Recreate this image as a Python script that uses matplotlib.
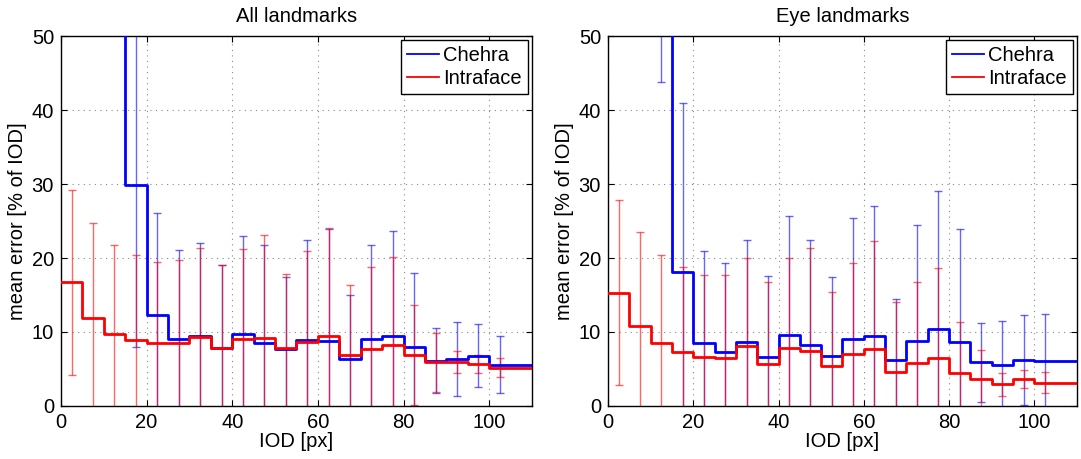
import numpy as np
import matplotlib
matplotlib.use("Agg")
import matplotlib.pyplot as plt
from matplotlib.lines import Line2D

nan = np.nan

# IOD bins of 5 px, 0..110
bin_edges = [0, 5, 10, 15, 20, 25, 30, 35, 40, 45, 50, 55, 60, 65, 70, 75,
             80, 85, 90, 95, 100, 105, 110]

# All landmarks
chehra_all = [nan, nan, 70, 29.9, 12.3, 9.0, 9.5, 7.9, 9.7, 8.5, 7.7, 8.9,
              8.8, 6.4, 9.1, 9.5, 8.0, 6.1, 6.4, 6.8, 5.6, 5.6]
chehra_all_std = [nan, nan, 15, 21.9, 13.8, 12.1, 12.5, 11.2, 13.3, 13.2, 9.7,
                  13.6, 15.1, 8.6, 12.7, 14.1, 10.0, 4.4, 5.0, 4.3, 3.9, nan]
intra_all = [16.7, 11.9, 9.7, 8.9, 8.5, 8.5, 9.3, 7.9, 9.0, 9.2, 7.8, 8.6,
             9.4, 6.9, 7.7, 8.2, 6.9, 5.9, 5.9, 5.7, 5.2, 5.2]
intra_all_std = [12.5, 12.8, 12.0, 11.5, 11.0, 11.2, 12.0, 11.2, 12.2, 13.9,
                 10.1, 12.3, 14.6, 9.4, 11.1, 12.0, 6.8, 4.0, 1.5, 1.2, 1.3, nan]

# Eye landmarks
chehra_eye = [nan, nan, 60, 18.1, 8.45, 7.3, 8.7, 6.65, 9.55, 8.2, 6.7, 9.0,
              9.4, 6.15, 8.8, 10.4, 8.7, 5.9, 5.55, 6.2, 6.05, 6.05]
chehra_eye_std = [nan, nan, 16.2, 22.8, 12.5, 12.0, 13.7, 10.9, 16.1, 14.3,
                  10.8, 16.45, 17.6, 8.25, 15.6, 18.7, 15.2, 5.3, 5.95, 6.1,
                  6.35, nan]
intra_eye = [15.3, 10.8, 8.5, 7.3, 6.6, 6.5, 8.1, 5.7, 7.8, 7.45, 5.4, 7.05,
             7.65, 4.55, 5.75, 6.5, 4.5, 3.7, 2.95, 3.65, 3.15, 3.15]
intra_eye_std = [12.5, 12.7, 11.9, 11.5, 11.1, 11.2, 11.9, 11.1, 12.2, 13.85,
                 10.0, 12.25, 14.65, 9.45, 10.95, 12.1, 6.85, 3.9, 1.55, 1.25,
                 1.45, nan]

plt.rcParams['font.family'] = ['Liberation Sans', 'DejaVu Sans']
plt.rcParams['font.size'] = 14.5

BLUE = '#0000ff'
RED = '#ff0000'


def draw_panel(ax, title, chehra, chehra_std, intra, intra_std):
    edges = np.array(bin_edges, dtype=float)
    centers = (edges[:-1] + edges[1:]) / 2

    for vals, std, col in [(chehra, chehra_std, BLUE), (intra, intra_std, RED)]:
        v = np.array(vals, dtype=float)
        s = np.array(std, dtype=float)
        ok = ~np.isnan(s)
        ax.errorbar(centers[ok], v[ok], yerr=s[ok], fmt='none', ecolor=col,
                    elinewidth=1, capsize=3, capthick=1, alpha=0.6, zorder=2)
    for vals, col in [(chehra, BLUE), (intra, RED)]:
        v = np.array(vals, dtype=float)
        ax.step(edges, np.append(v, v[-1]), where='post', color=col, lw=2,
                zorder=3)

    ax.set_xlim(0, 110)
    ax.set_ylim(0, 50)
    ax.set_xticks([0, 20, 40, 60, 80, 100])
    ax.set_yticks([0, 10, 20, 30, 40, 50])
    ax.grid(True, linestyle=(0, (1, 4)), color='#888888', lw=0.8)
    ax.tick_params(direction='in', top=True, right=True, length=4, pad=5)
    for sp in ax.spines.values():
        sp.set_linewidth(1)
    ax.set_title(title, fontsize=14.5, pad=10)
    ax.set_xlabel('IOD [px]', labelpad=0)
    ax.set_ylabel('mean error [% of IOD]', labelpad=3)

    handles = [Line2D([], [], color=BLUE, lw=1.3),
               Line2D([], [], color=RED, lw=1.3)]
    leg = ax.legend(handles, ['Chehra', 'Intraface'], loc='upper right',
                    fancybox=False, framealpha=1, edgecolor='black',
                    borderaxespad=0.2, handlelength=1.6, handletextpad=0.2,
                    borderpad=0.3, labelspacing=0.2, fontsize=14.5)
    leg.get_frame().set_linewidth(1)


fig = plt.figure(figsize=(10.81, 4.59), dpi=100)
ax1 = fig.add_axes([0.0564, 0.1155, 0.4357, 0.806])
ax2 = fig.add_axes([0.5624, 0.1155, 0.4339, 0.806])

draw_panel(ax1, 'All landmarks', chehra_all, chehra_all_std, intra_all, intra_all_std)
draw_panel(ax2, 'Eye landmarks', chehra_eye, chehra_eye_std, intra_eye, intra_eye_std)

fig.savefig('out.png', dpi=100)
